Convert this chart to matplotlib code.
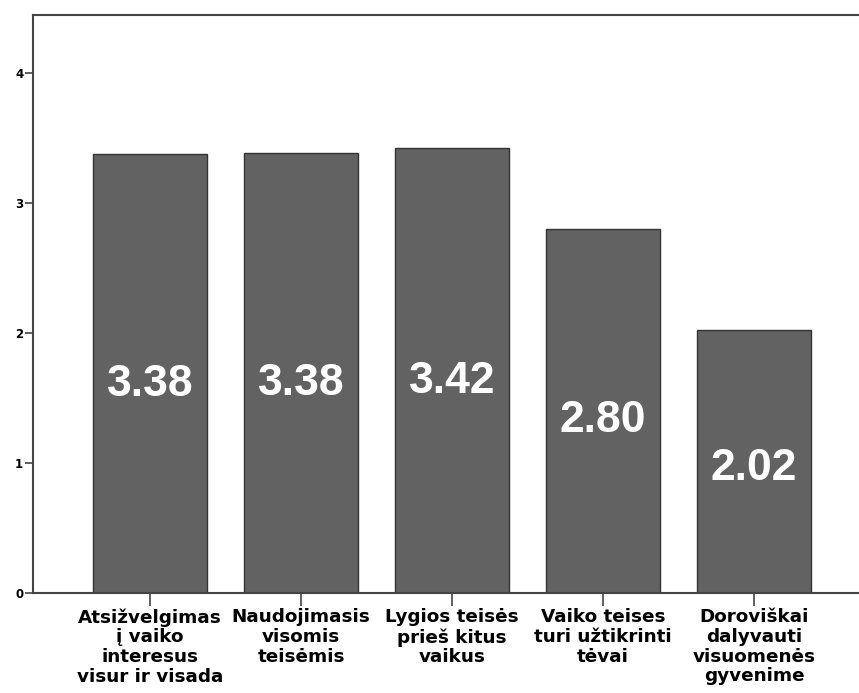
import matplotlib
matplotlib.use("Agg")
import matplotlib.pyplot as plt

categories = ["Atsižvelgimas\nį vaiko\ninteresus\nvisur ir visada",
              "Naudojimasis\nvisomis\nteisėmis",
              "Lygios teisės\nprieš kitus\nvaikus",
              "Vaiko teises\nturi užtikrinti\ntėvai",
              "Doroviškai\ndalyvauti\nvisuomenės\ngyvenime"]
values = [3.38, 3.385, 3.42, 2.80, 2.02]
value_labels = ["3.38", "3.38", "3.42", "2.80", "2.02"]
yticks = [0, 1, 2, 3, 4]

fig = plt.figure(figsize=(8.59, 6.93), dpi=100)
ax = fig.add_axes([33/859, 1-593/693, 1-33/859, (593-14.5)/693])
x = list(range(len(categories)))
ax.bar(x, values, width=0.76, color="#626262", edgecolor="#333333", linewidth=1.0, zorder=2)
for xi, v, lab in zip(x, values, value_labels):
    ax.text(xi, v*0.475, lab, ha="center", va="center", color="white",
            fontsize=32, fontweight="bold", family="Liberation Sans")
ax.set_xlim(-0.775, 4.695)
ax.set_ylim(0, 4.45)
ax.set_yticks(yticks)
ax.set_yticklabels([str(t) for t in yticks], fontsize=8.5, fontweight="bold")
ax.set_xticks(x)
ax.set_xticklabels(categories, fontsize=13.2, fontweight="bold", linespacing=1.12)
for s in ["left", "top", "bottom"]:
    ax.spines[s].set_color("#444444")
    ax.spines[s].set_linewidth(1.5)
ax.spines["right"].set_visible(False)
ax.tick_params(axis="y", length=6, width=1.2, color="#444444", pad=1)
ax.tick_params(axis="x", length=9, width=1.2, color="#444444", pad=2)
fig.savefig("out.png", dpi=100)
